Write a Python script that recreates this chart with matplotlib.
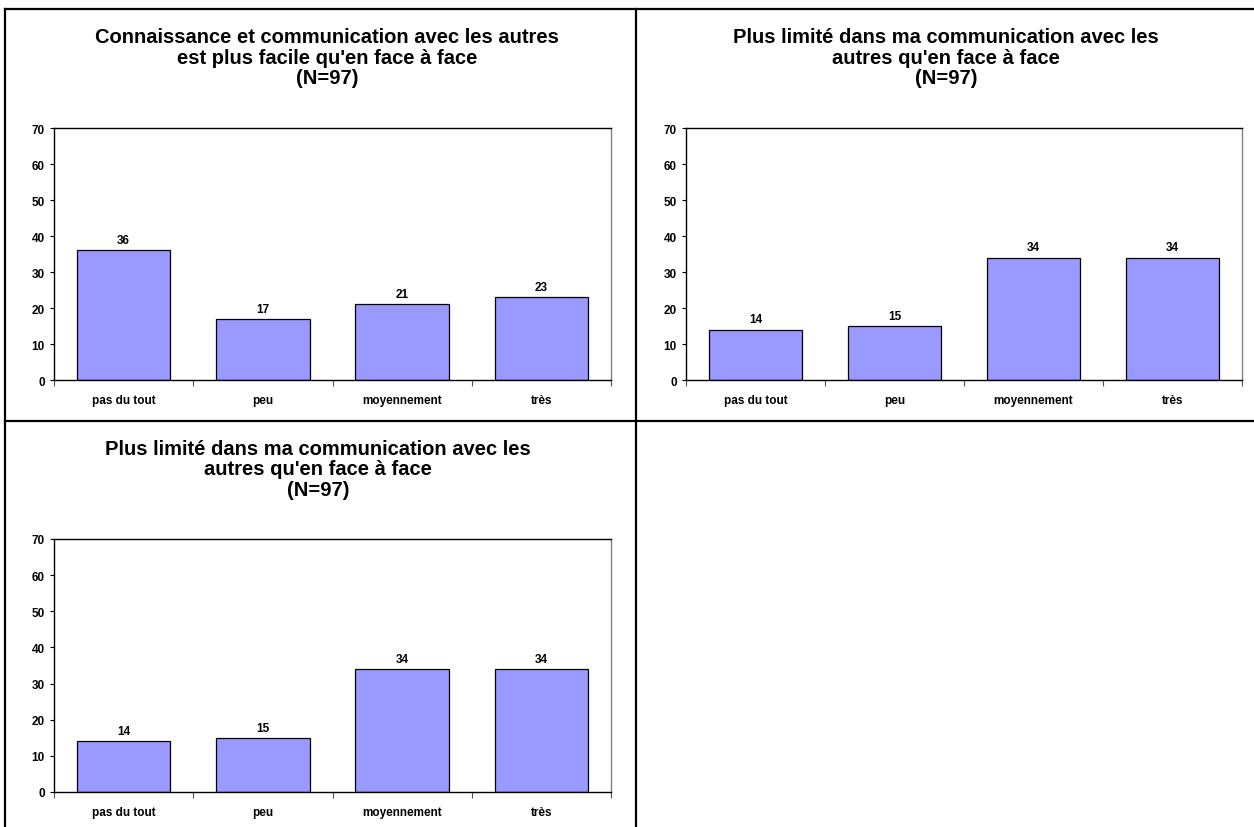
import matplotlib
matplotlib.use('Agg')
import matplotlib.pyplot as plt
from matplotlib.lines import Line2D
import numpy as np

plt.rcParams['font.family'] = ['Liberation Sans', 'DejaVu Sans']
plt.rcParams['font.weight'] = 'bold'

categories = ['pas du tout', 'peu', 'moyennement', 'très']
yticks = [0, 10, 20, 30, 40, 50, 60, 70]

title_1 = "Connaissance et communication avec les autres\nest plus facile qu'en face à face\n(N=97)"
values_1 = [36, 17, 21, 23]

title_2 = "Plus limité dans ma communication avec les\nautres qu'en face à face\n(N=97)"
values_2 = [14, 15, 34, 34]

title_3 = "Plus limité dans ma communication avec les\nautres qu'en face à face\n(N=97)"
values_3 = [14, 15, 34, 34]

W, H = 1254, 828
fig = plt.figure(figsize=(W / 100, H / 100), dpi=100)


def px_axes(x0, y0, x1, y1):
    # pixel box (top-left origin) -> figure fraction axes
    return fig.add_axes([x0 / W, 1 - y1 / H, (x1 - x0) / W, (y1 - y0) / H])


def bar_panel(box, title, title_xy, values):
    ax = px_axes(*box)
    x = np.arange(len(categories))
    bars = ax.bar(x, values, width=0.67, color='#9999FF',
                  edgecolor='black', linewidth=0.9, zorder=2)
    for b, v in zip(bars, values):
        ax.annotate(str(v), (b.get_x() + b.get_width() / 2, v),
                    xytext=(0, 3), textcoords='offset points',
                    ha='center', va='bottom', fontsize=8.5, fontweight='bold')
    ax.set_xlim(-0.5, len(categories) - 0.5)
    ax.set_ylim(0, 70)
    ax.set_yticks(yticks)
    ax.set_yticklabels([str(t) for t in yticks], fontsize=8.5, fontweight='bold')
    ax.set_xticks(x)
    ax.set_xticklabels(categories, fontsize=8.5, fontweight='bold')
    ax.set_xticks(np.arange(len(categories) + 1) - 0.5, minor=True)
    ax.tick_params(axis='x', which='major', length=0, pad=10)
    ax.tick_params(axis='x', which='minor', length=4, width=0.8,
                   direction='out', color='#555555')
    ax.tick_params(axis='y', length=3, width=0.8, pad=3.5)
    for side in ['left', 'bottom', 'top']:
        ax.spines[side].set_color('black')
        ax.spines[side].set_linewidth(1.0)
    ax.spines['right'].set_color('#808080')
    ax.spines['right'].set_linewidth(1.0)
    fig.text(title_xy[0] / W, 1 - title_xy[1] / H, title,
             ha='center', va='center', fontsize=14.5, fontweight='bold',
             linespacing=1.1)
    return ax


bar_panel((54, 129, 611, 381), title_1, (327, 58), values_1)
bar_panel((686, 129, 1242, 381), title_2, (946, 58), values_2)
bar_panel((54, 540, 611, 793), title_3, (318, 470), values_3)

# cell borders around the panels
def px_line(x0, y0, x1, y1):
    fig.add_artist(Line2D([x0 / W, x1 / W], [1 - y0 / H, 1 - y1 / H],
                          color='black', linewidth=1.6,
                          transform=fig.transFigure))


px_line(5, 10, W, 10)
px_line(5, 422, W, 422)
px_line(5, 10, 5, H)
px_line(636, 10, 636, H)

fig.savefig('out.png', dpi=100)
